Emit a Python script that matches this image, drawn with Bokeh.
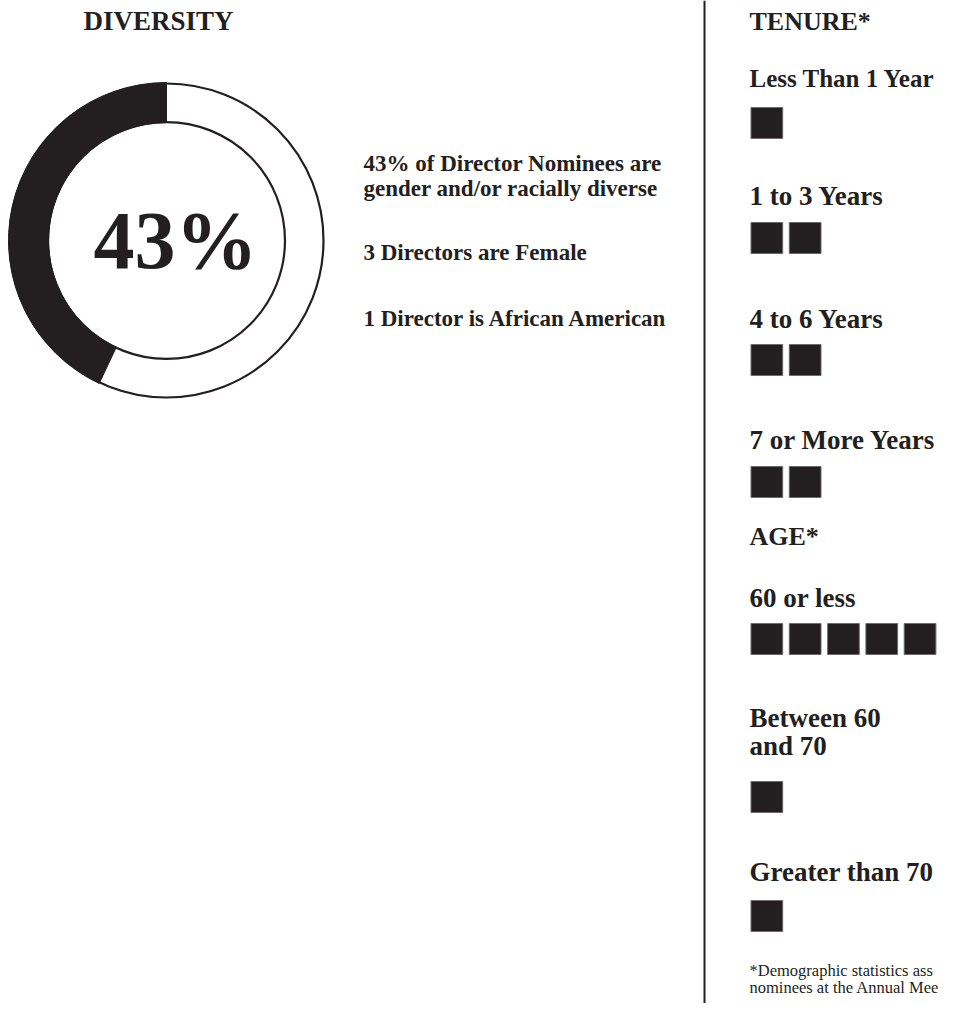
import math
from bokeh.plotting import figure
from bokeh.models import Range1d
from bokeh.core.properties import value
from bokeh.embed import file_html
from bokeh.resources import INLINE

# ---------------- data ----------------
diversity_title = "DIVERSITY"
diversity_pct = 43
diversity_notes = [
    ["43% of Director Nominees are", "gender and/or racially diverse"],
    ["3 Directors are Female"],
    ["1 Director is African American"],
]
tenure_title = "TENURE*"
tenure_labels = [["Less Than 1 Year"], ["1 to 3 Years"], ["4 to 6 Years"], ["7 or More Years"]]
tenure_counts = [1, 2, 2, 2]
age_title = "AGE*"
age_labels = [["60 or less"], ["Between 60", "and 70"], ["Greater than 70"]]
age_counts = [5, 1, 1]
footnote = ["*Demographic statistics ass", "nominees at the Annual Mee"]

# ---------------- layout ----------------
W, H = 939, 1003
INK = "#231f20"
SERIF = value("Liberation Serif")


def Y(py):
    return H - py


p = figure(width=W, height=H, output_backend="svg", toolbar_location=None,
           x_range=Range1d(0, W), y_range=Range1d(0, H),
           x_axis_type=None, y_axis_type=None, min_border=0)
p.grid.visible = False
p.outline_line_color = None
p.background_fill_color = "white"
p.border_fill_color = "white"


def txt(x, py, s, size, style="bold", align="left", color=INK):
    p.text(x=[x], y=[Y(py)], text=[s], text_font=SERIF, text_font_style=style,
           text_font_size=size, text_align=align, text_baseline="alphabetic",
           text_color=color)


# ---- diversity donut ----
cx, cy = 166, 240
r_in, r_out = 118, 158
frac = diversity_pct / 100.0
start = math.pi / 2
end = math.pi / 2 + 2 * math.pi * frac
p.annular_wedge(x=[cx], y=[Y(cy)], inner_radius=r_in, outer_radius=r_out,
                start_angle=end, end_angle=start + 2 * math.pi,
                fill_color="white", line_color=None)
p.circle(x=[cx], y=[Y(cy)], radius=r_out - 1, fill_color=None, line_color=INK, line_width=2.2)
p.circle(x=[cx], y=[Y(cy)], radius=r_in + 0.5, fill_color=None, line_color=INK, line_width=2.2)
p.annular_wedge(x=[cx], y=[Y(cy)], inner_radius=r_in, outer_radius=r_out,
                start_angle=start, end_angle=end,
                fill_color=INK, line_color=INK, line_width=1)

txt(158, 20, diversity_title, "27px", align="center")
txt(175, 240, f"{diversity_pct}%", "82px", align="center")

note_baselines = [[163, 188], [252], [318]]
for lines, bls in zip(diversity_notes, note_baselines):
    for s, b in zip(lines, bls):
        txt(363, b, s, "23px")

# ---- divider ----
p.segment(x0=[704], y0=[Y(0)], x1=[704], y1=[Y(H)], line_color=INK, line_width=2)

# ---- tenure / age boxes ----
BX0, PITCH, BW, BH = 750.5, 38.3, 31.7, 31


def boxes(count, top):
    lefts = [BX0 + j * PITCH for j in range(count)]
    p.quad(left=lefts, right=[l + BW for l in lefts],
           top=[Y(top)] * count, bottom=[Y(top + BH)] * count,
           fill_color=INK, line_color="#6d6a6b", line_width=1)


txt(749, 21, tenure_title, "26px")
tenure_label_bl = [[78], [195], [318], [439]]
tenure_label_sz = ["25px", "27px", "27px", "27px"]
tenure_box_top = [107, 222, 344, 466]
for lab, bl, sz, n, bt in zip(tenure_labels, tenure_label_bl, tenure_label_sz,
                               tenure_counts, tenure_box_top):
    for s, b in zip(lab, bl):
        txt(749, b, s, sz)
    boxes(n, bt)

txt(749, 536, age_title, "26px")
age_label_bl = [[597], [717, 745], [871]]
age_box_top = [623, 781, 900]
for lab, bl, n, bt in zip(age_labels, age_label_bl, age_counts, age_box_top):
    for s, b in zip(lab, bl):
        txt(749, b, s, "27px")
    boxes(n, bt)

txt(749, 970, footnote[0], "16.5px", style="normal")
txt(749, 987, footnote[1], "16.5px", style="normal")

open("out.html", "w").write(file_html(p, INLINE))
